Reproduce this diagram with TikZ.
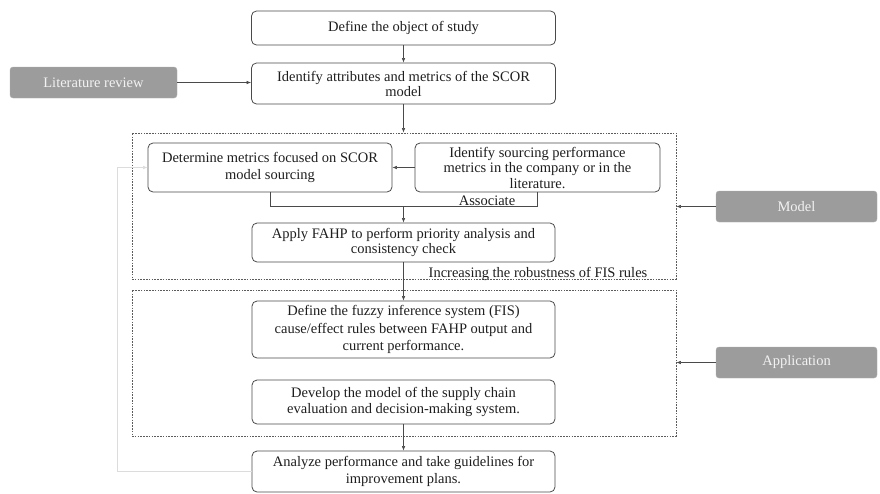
\documentclass[tikz,border=0pt]{standalone}
\usepackage{fontspec}
\setmainfont{Liberation Serif}
\usetikzlibrary{arrows.meta}
\definecolor{linec}{HTML}{4A4A4A}
\definecolor{txtc}{HTML}{1E1E1E}
\definecolor{grayfill}{HTML}{9C9C9C}
\definecolor{faint}{HTML}{DCDCDC}
\tikzset{
  stepbox/.style={draw=linec, line width=0.8pt, rounded corners=5pt, align=center, inner sep=0pt,
    text=txtc, font=\fontsize{14.5}{16.5}\selectfont},
  graybox/.style={fill=grayfill, draw=grayfill!80, rounded corners=3pt, align=center, inner sep=0pt,
    text=white!95!black, font=\fontsize{14.5}{16.5}\selectfont},
  groupbox/.style={draw=linec!90, line width=0.8pt, dash pattern=on 1.6pt off 1.2pt, inner sep=0pt},
  arr/.style={draw=linec, line width=0.6pt, -{Latex[length=4.5pt,width=3.5pt]}},
  plain/.style={draw=linec, line width=0.6pt},
  lbl/.style={text=txtc, font=\fontsize{14.5}{16.5}\selectfont, inner sep=0pt}
}
\begin{document}
\begin{tikzpicture}[x=1pt,y=-1pt]
\useasboundingbox (0,0) rectangle (880,493);
% group boxes
\node[groupbox, minimum width=544pt, minimum height=146pt] (modelgrp) at (404,206) {};
\node[groupbox, minimum width=544pt, minimum height=146pt] (appgrp) at (404,363) {};
% steps
\node[stepbox, minimum width=304pt, minimum height=34pt] (define) at (403.5,28) {Define the object of study};
\node[stepbox, minimum width=304pt, minimum height=41pt, font=\fontsize{14.5}{15}\selectfont] (attr) at (403.5,83.5) {Identify attributes and metrics of the SCOR\\model};
\node[graybox, minimum width=167pt, minimum height=31pt] (lit) at (93.5,82.5) {Literature review};
\node[stepbox, minimum width=244pt, minimum height=49pt] (det) at (270,167.5) {Determine metrics focused on SCOR\\model sourcing};
\node[stepbox, minimum width=245pt, minimum height=49pt, font=\fontsize{14.5}{15.5}\selectfont] (ids) at (537.5,167.5) {Identify sourcing performance\\metrics in the company or in the\\literature.};
\node[stepbox, minimum width=303pt, minimum height=39pt, font=\fontsize{14.5}{15.7}\selectfont] (fahp) at (403.5,242.5) {Apply FAHP to perform priority analysis and\\consistency check};
\node[stepbox, minimum width=303pt, minimum height=57pt, font=\fontsize{14.5}{17.5}\selectfont] (fis) at (403.5,329.5) {Define the fuzzy inference system (FIS)\\cause/effect rules between FAHP output and\\current performance.};
\node[stepbox, minimum width=303pt, minimum height=44pt, font=\fontsize{14.5}{16}\selectfont] (dev) at (403.5,402) {Develop the model of the supply chain\\evaluation and decision-making system.};
\node[stepbox, minimum width=303pt, minimum height=41pt] (ana) at (403.5,471.5) {Analyze performance and take guidelines for\\improvement plans.};
\node[graybox, minimum width=161pt, minimum height=31pt] (model) at (796.5,206.5) {Model};
\node[graybox, minimum width=161pt, minimum height=31pt] (app) at (796.5,362.5) {Application};
% labels
\node[lbl, anchor=base] (assoc) at (487,205.5) {Associate};
\node[lbl, anchor=base] (robust) at (538,277.5) {Increasing the robustness of FIS rules};
% connectors
\draw[arr] (define) -- (attr);
\draw[arr] (lit) -- (lit -| attr.west);
\draw[arr] (attr) -- (attr.south |- modelgrp.north);
\draw[arr] (ids.west) -- (ids.west -| det.east);
\coordinate (bl) at (det.south |- 0,206);
\coordinate (br) at (ids.south |- 0,206);
\coordinate (bm) at (fahp.north |- 0,206);
\draw[plain] (det.south) -- (bl) -- (br) -- (ids.south);
\draw[arr] (bm) -- (fahp.north);
\draw[arr] (fahp) -- (fis);
\draw[arr] (dev) -- (ana);
\draw[arr] (model.west) -- (model.west -| modelgrp.east);
\draw[arr] (app.west) -- (app.west -| appgrp.east);
% faint feedback
\coordinate (fb1) at (117,471.5);
\coordinate (fb2) at (117,167.5);
\draw[draw=faint, line width=0.6pt, -{Latex[length=4.5pt,width=3.5pt]}] (ana.west) -- (fb1) -- (fb2) -- (det.west);
\end{tikzpicture}
\end{document}
